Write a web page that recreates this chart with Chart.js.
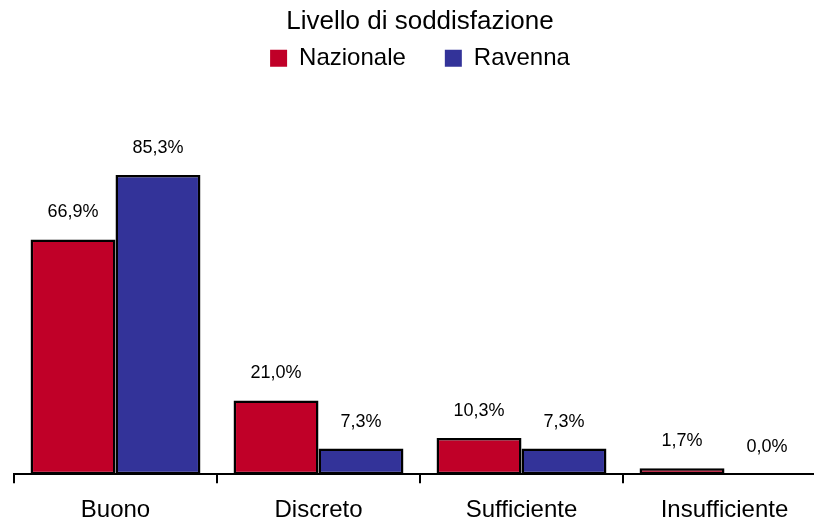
<!DOCTYPE html>
<html>
<head>
<meta charset="utf-8">
<script src="https://cdn.jsdelivr.net/npm/chart.js@4/dist/chart.umd.min.js"></script>
<style>
  html, body { margin: 0; padding: 0; background: #fff; overflow: hidden; }
  #wrap { width: 830px; height: 521px; }
</style>
</head>
<body>
<div id="wrap"><canvas id="c" width="830" height="521"></canvas></div>
<script>
const chartTitle = 'Livello di soddisfazione';
const categories = ['Buono', 'Discreto', 'Sufficiente', 'Insufficiente'];
const seriesNames = ['Nazionale', 'Ravenna'];
const nazionale = [66.9, 21.0, 10.3, 1.7];
const ravenna = [85.3, 7.3, 7.3, 0.0];
const seriesColors = ['#C00028', '#333399'];

const FONT = '"Liberation Sans", Arial, sans-serif';

const valueLabels = {
  id: 'valueLabels',
  afterDatasetsDraw(chart) {
    const ctx = chart.ctx;
    ctx.save();
    ctx.font = '18px ' + FONT;
    ctx.fillStyle = '#000';
    ctx.textAlign = 'center';
    ctx.textBaseline = 'middle';
    chart.data.datasets.forEach((ds, i) => {
      const meta = chart.getDatasetMeta(i);
      meta.data.forEach((bar, j) => {
        const v = ds.data[j];
        ctx.fillText(v.toFixed(1).replace('.', ',') + '%', bar.x, bar.y - 27);
      });
    });
    ctx.restore();
  }
};

new Chart(document.getElementById('c'), {
  type: 'bar',
  data: {
    labels: categories,
    datasets: [
      { label: seriesNames[0], data: nazionale, backgroundColor: seriesColors[0], borderColor: '#000', borderWidth: 2.5, borderSkipped: false },
      { label: seriesNames[1], data: ravenna, backgroundColor: seriesColors[1], borderColor: '#000', borderWidth: 2.5, borderSkipped: false }
    ]
  },
  options: {
    responsive: false,
    animation: false,
    layout: { padding: { left: 14, right: 4, top: 0, bottom: -17 } },
    datasets: { bar: { categoryPercentage: 0.837, barPercentage: 1 } },
    plugins: {
      title: {
        display: true,
        text: chartTitle,
        color: '#000',
        font: { family: FONT, size: 26, weight: 'normal' },
        padding: { top: 6, bottom: -30 }
      },
      legend: {
        display: true,
        labels: {
          color: '#000',
          font: { family: FONT, size: 24 },
          boxWidth: 17,
          boxHeight: 17,
          padding: 39,
          generateLabels(chart) {
            return chart.data.datasets.map((ds, i) => ({
              text: ds.label,
              fillStyle: ds.backgroundColor,
              strokeStyle: ds.backgroundColor,
              lineWidth: 0,
              hidden: false,
              datasetIndex: i
            }));
          }
        }
      },
      tooltip: { enabled: false }
    },
    scales: {
      x: {
        grid: { offset: true, drawOnChartArea: false, drawTicks: true, tickLength: 9, color: '#000', lineWidth: 2 },
        border: { display: true, color: '#000', width: 2 },
        ticks: { color: '#000', font: { family: FONT, size: 24 }, padding: 13, maxRotation: 0 }
      },
      y: {
        display: false,
        min: 0,
        max: 112.3
      }
    }
  },
  plugins: [valueLabels]
});
</script>
</body>
</html>
